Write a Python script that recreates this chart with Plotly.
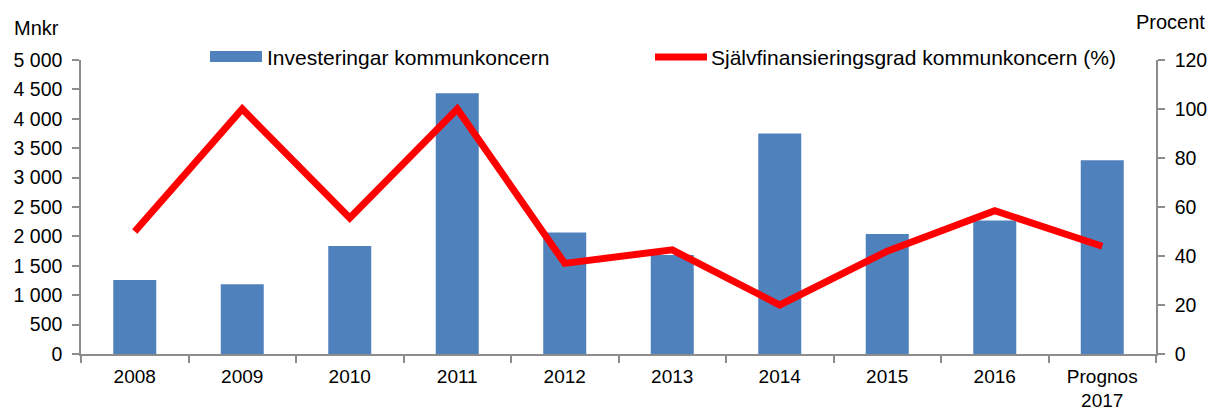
import plotly.graph_objects as go

categories = ["2008", "2009", "2010", "2011", "2012", "2013", "2014", "2015", "2016", "Prognos<br>2017"]
investeringar = [1260, 1185, 1835, 4435, 2065, 1685, 3750, 2040, 2270, 3295]
sjalvfinansiering = [50, 100, 55.5, 100, 37, 42.5, 20, 42, 58.5, 44]

left_ticks = [0, 500, 1000, 1500, 2000, 2500, 3000, 3500, 4000, 4500, 5000]
left_ticktext = ["0", "500", "1 000", "1 500", "2 000", "2 500", "3 000", "3 500", "4 000", "4 500", "5 000"]
right_ticks = [0, 20, 40, 60, 80, 100, 120]

bar_name = "Investeringar kommunkoncern"
line_name = "Självfinansieringsgrad kommunkoncern (%)"

BLUE = "#4F81BD"
RED = "#FF0000"
GRAY = "#8C8C8C"
FONT = "Liberation Sans, Arial, sans-serif"
TICK_SIZE = 19.5
TEXT_SIZE = 21

fig = go.Figure()
fig.add_trace(go.Bar(x=categories, y=investeringar, name=bar_name,
                     marker=dict(color=BLUE, line=dict(width=0)), yaxis="y"))
fig.add_trace(go.Scatter(x=categories, y=sjalvfinansiering, name=line_name, mode="lines",
                         line=dict(color=RED, width=7), yaxis="y2"))

W, H = 1210, 410
ml, mr, mt, mb = 81, 54, 60, 56
pw, ph = W - ml - mr, H - mt - mb

def px(x):
    return (x - ml) / pw

def py(y):
    return (H - mb - y) / ph

axis_common = dict(showline=True, linecolor=GRAY, linewidth=1.5, ticks="outside",
                   ticklen=7, tickcolor=GRAY, tickwidth=1.5, showgrid=False,
                   automargin=False)

fig.update_layout(
    width=W, height=H,
    margin=dict(l=ml, r=mr, t=mt, b=mb, autoexpand=False),
    paper_bgcolor="white", plot_bgcolor="white",
    font=dict(family=FONT, size=TICK_SIZE, color="#000000"),
    showlegend=False,
    bargap=0.6,
    xaxis=dict(type="category", tickson="boundaries", ticklabelstandoff=4,
               tickfont=dict(size=19), **axis_common),
    yaxis=dict(range=[0, 5000], tickvals=left_ticks, ticktext=left_ticktext,
               zeroline=False, ticklabelstandoff=6, tickfont=dict(size=TICK_SIZE), **axis_common),
    yaxis2=dict(range=[0, 120], tickvals=right_ticks, overlaying="y", side="right",
                zeroline=False, ticklabelstandoff=6, tickfont=dict(size=TICK_SIZE), **axis_common),
)

# Custom legend (shapes + text)
fig.add_shape(type="rect", xref="paper", yref="paper",
              x0=px(210), x1=px(262), y0=py(62), y1=py(51),
              fillcolor=BLUE, line=dict(width=0))
fig.add_annotation(xref="paper", yref="paper", x=px(265), y=py(57),
                   text=bar_name, showarrow=False, xanchor="left", yanchor="middle",
                   font=dict(size=TEXT_SIZE))
fig.add_shape(type="line", xref="paper", yref="paper",
              x0=px(655), x1=px(707), y0=py(57), y1=py(57),
              line=dict(color=RED, width=7))
fig.add_annotation(xref="paper", yref="paper", x=px(709), y=py(57),
                   text=line_name, showarrow=False, xanchor="left", yanchor="middle",
                   font=dict(size=TEXT_SIZE))

# Axis titles
fig.add_annotation(xref="paper", yref="paper", x=px(12), y=py(28),
                   text="Mnkr", showarrow=False, xanchor="left", yanchor="middle",
                   font=dict(size=20))
fig.add_annotation(xref="paper", yref="paper", x=px(1207), y=py(22),
                   text="Procent", showarrow=False, xanchor="right", yanchor="middle",
                   font=dict(size=20))

fig.write_html("out.html", config={"displayModeBar": False},
               post_script="document.body.style.margin='0';document.body.style.overflow='hidden';")
